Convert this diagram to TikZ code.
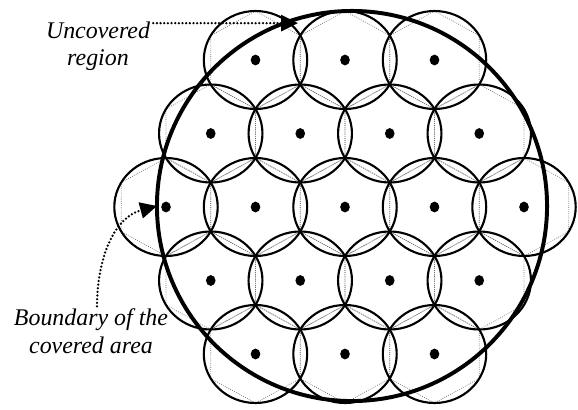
\documentclass[tikz,border=0pt]{standalone}
\usepackage{fontspec}
\setmainfont{Liberation Serif}
\usetikzlibrary{arrows.meta}

\begin{document}
\begin{tikzpicture}[x=0.025cm, y=0.025cm,
  cell/.style={line width=1.5pt},
  hexline/.style={line width=0.5pt, gray!80!black, densely dotted},
  spot/.style={fill=black},
  cover/.style={draw, circle, line width=2.8pt, inner sep=0pt, outer sep=0pt, minimum size=9.75cm},
  lbl/.style={font=\fontsize{17}{19.5}\selectfont\itshape, align=center, inner sep=0pt},
  note/.style={line width=1.8pt, dash pattern=on 0pt off 2.6pt, line cap=round, -{Triangle[length=0.42cm, width=0.4cm]}}]
  \useasboundingbox (0,0) rectangle (578,409);
  % hexagonal cells: rows of 3,4,5,4,3
  \foreach \j in {-2,...,2} {
    \pgfmathtruncatemacro\n{4-abs(\j)}
    \foreach \i in {0,...,\n} {
      \pgfmathsetmacro\cx{345+(\i-\n/2)*89.5}
      \pgfmathsetmacro\cy{202+\j*73.5}
      \draw[hexline] (\cx,\cy) ++(0,49) -- ++(-44.75,-24.5) -- ++(0,-49) -- ++(44.75,-24.5)
        -- ++(44.75,24.5) -- ++(0,49) -- cycle;
      \draw[cell] (\cx,\cy) ellipse [x radius=51.7, y radius=49];
      \fill[spot] (\cx,\cy) circle [x radius=4.8, y radius=5.4];
    }
  }
  \node[cover] (cover) at (352,203) {};
  \node[lbl] (uncov) at (98,363) {Uncovered\\region};
  \node[lbl] (bound) at (91,78) {Boundary of the\\covered area};
  \coordinate (tip1) at (298,385);
  \path ([shift={(3,-2)}]uncov.north east) coordinate (from1);
  \draw[note] (from1) -- (from1 -| tip1);
  \draw[note] ([shift={(6,2)}]bound.north) to[out=90, in=195] (cover.180);
\end{tikzpicture}
\end{document}
